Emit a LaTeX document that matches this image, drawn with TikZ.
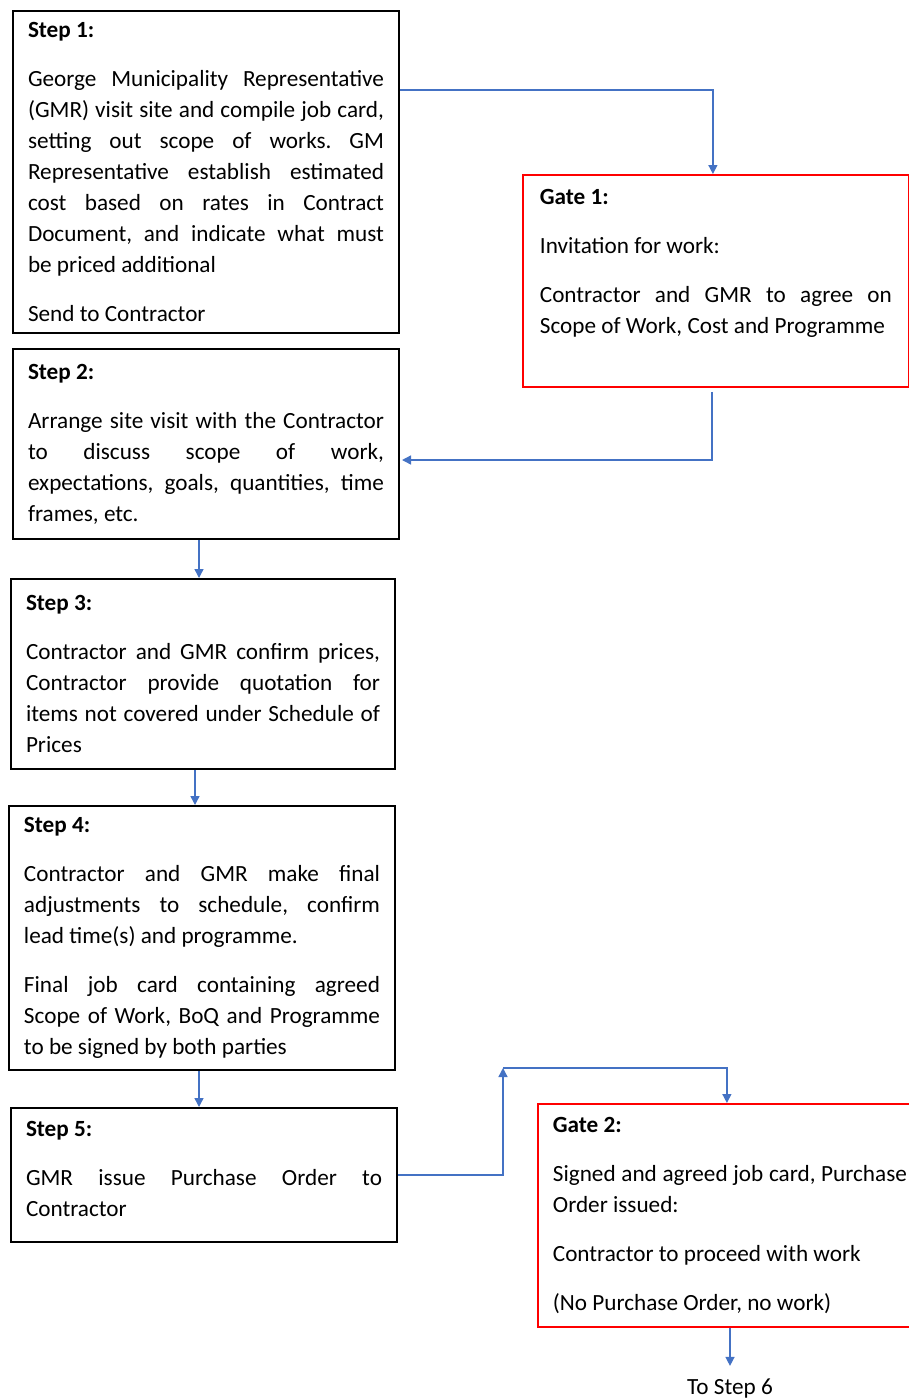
\documentclass[tikz,border=0pt]{standalone}
\usepackage{fontspec}
\setmainfont{Carlito}
\usepackage{tikz}
\usetikzlibrary{arrows.meta, calc}
\definecolor{flowblue}{HTML}{4472C4}
\tikzstyle{stepbox} = [draw, line width=1pt, anchor=north west, align=justify, inner xsep=7.5pt, inner ysep=4pt, font=\fontsize{11.6}{15.5}\selectfont]
\tikzstyle{gatebox} = [stepbox, draw=red, line width=0.9pt]
\tikzstyle{flow} = [draw=flowblue, line width=0.7pt, -{Triangle[length=4.5pt,width=4.5pt]}]

\begin{document}
\frenchspacing
\begin{tikzpicture}[x=0.5pt, y=-0.5pt, execute at begin node={\setlength{\parskip}{9pt}\tolerance=9999\hyphenpenalty=10000}]
	\useasboundingbox (0,0) rectangle (909,1398);
	\clip (0,0) rectangle (909,1398);

	% left column
	\node[stepbox, text width=178pt, minimum height=161pt] (s1) at (12,10) {\textbf{Step 1:}\par
		George Municipality Representative\linebreak (GMR) visit site and compile job card,\linebreak setting out scope of works. GM\linebreak Representative establish estimated\linebreak cost based on rates in Contract\linebreak Document, and indicate what must\linebreak be priced additional\par
		Send to Contractor};
	\node[stepbox, text width=178pt, minimum height=95pt] (s2) at (12,348) {\textbf{Step 2:}\par
		Arrange site visit with the Contractor\linebreak to discuss scope of work,\linebreak expectations, goals, quantities, time\linebreak frames, etc.};
	\node[stepbox, text width=177pt, minimum height=95pt] (s3) at (10,578) {\textbf{Step 3:}\par
		Contractor and GMR confirm prices,\linebreak Contractor provide quotation for\linebreak items not covered under Schedule of\linebreak Prices};
	\node[stepbox, text width=178pt, minimum height=132pt] (s4) at (8,805) {\textbf{Step 4:}\par
		Contractor and GMR make final\linebreak adjustments to schedule, confirm\linebreak lead time(s) and programme.\par
		Final job card containing agreed\linebreak Scope of Work, BoQ and Programme\linebreak to be signed by both parties};
	\node[stepbox, text width=178pt, minimum height=67pt] (s5) at (10,1107) {\textbf{Step 5:}\par
		GMR issue Purchase Order to\linebreak Contractor\par\kern6pt};

	% gates
	\node[gatebox, inner xsep=8.5pt, text width=176pt, minimum height=106pt] (g1) at (522,174) {\textbf{Gate 1:}\par
		Invitation for work:\par
		Contractor and GMR to agree on\linebreak Scope of Work, Cost and Programme\par\kern17.5pt};
	\node[gatebox, text width=177pt, minimum height=111.5pt] (g2) at (537,1103) {\textbf{Gate 2:}\par
		Signed and agreed job card, Purchase\linebreak Order issued:\par
		Contractor to proceed with work\par
		(No Purchase Order, no work)};
	\node[font=\fontsize{11.6}{15.5}\selectfont, inner ysep=6.5pt] (next) at (730,1389) {To Step 6};
	\coordinate (turn) at (503,1068);

	% connectors
	\draw[flow] ($(s1.north east)+(0,80)$) -| ($(g1.north)+(-3,0)$);
	\draw[flow] ($(g1.south)+(-4,4)$) |- ($(s2.north east)+(2,112)$);
	\draw[flow] ($(s3.north |- s2.south)+(-4,0)$) -- ($(s3.north)+(-4,0)$);
	\draw[flow] ($(s4.north |- s3.south)+(-7,0)$) -- ($(s4.north)+(-7,0)$);
	\draw[flow] ($(s5.north |- s4.south)+(-5,0)$) -- ($(s5.north)+(-5,0)$);
	\draw[flow] (s5.east) -| (turn);
	\draw[flow] (turn) -| ($(g2.north)+(-3,0)$);
	\draw[flow] (g2.south -| next.north) -- (next.north);
\end{tikzpicture}
\end{document}
